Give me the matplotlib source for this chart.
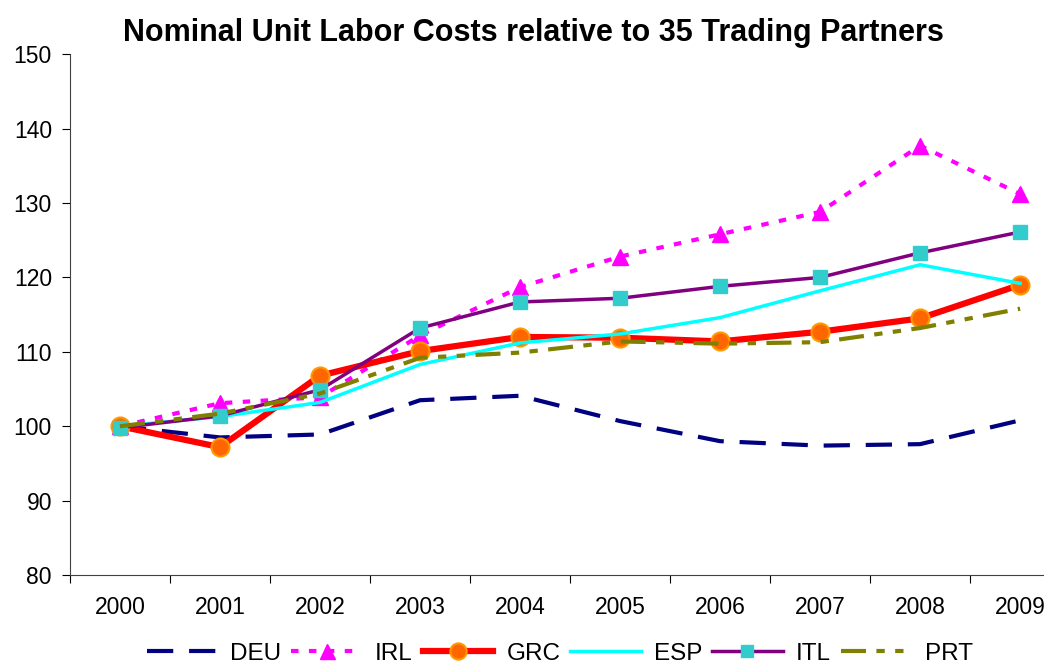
import matplotlib
matplotlib.use("Agg")
import matplotlib.pyplot as plt
from matplotlib.ticker import FixedLocator, NullFormatter

plt.rcParams['font.family'] = ['Liberation Sans', 'DejaVu Sans']

years = ['2000', '2001', '2002', '2003', '2004', '2005', '2006', '2007', '2008', '2009']
deu = [100.0, 98.5, 98.9, 103.5, 104.1, 100.7, 98.0, 97.4, 97.6, 100.8]
irl = [100.0, 103.1, 103.9, 112.2, 118.7, 122.8, 125.8, 128.8, 137.7, 131.2]
grc = [100.0, 97.2, 106.8, 110.1, 112.0, 111.9, 111.4, 112.7, 114.5, 119.0]
esp = [100.0, 101.3, 103.2, 108.3, 111.2, 112.4, 114.6, 118.2, 121.7, 119.2]
itl = [99.8, 101.4, 104.9, 113.2, 116.7, 117.2, 118.8, 120.0, 123.3, 126.1]
prt = [100.0, 101.7, 104.4, 109.2, 109.9, 111.4, 111.1, 111.3, 113.2, 115.8]

fig = plt.figure(figsize=(10.44, 6.68), dpi=100)
ax = fig.add_axes([0.067, 0.139, 0.958, 0.780])
x = list(range(len(years)))

ax.plot(x, deu, color='#000080', lw=3, dashes=(6.3, 3.8), label='DEU')
ax.plot(x, irl, color='#FF00FF', lw=3, dashes=(1.8, 2.5), marker='^', ms=12,
        mfc='#FF00FF', mec='#FF00FF', label='IRL')
ax.plot(x, grc, color='#FF0000', lw=4.5, marker='o', ms=13,
        mfc='#FF6600', mec='#FF9900', mew=1.5, label='GRC')
ax.plot(x, esp, color='#00FFFF', lw=2.5, label='ESP')
ax.plot(x, itl, color='#800080', lw=2.5, marker='s', ms=10,
        mfc='#33CCCC', mec='#33CCCC', label='ITL')
ax.plot(x, prt, color='#808000', lw=3, dashes=(6, 2.5, 2, 2.5, 2, 2.5), label='PRT')

ax.set_xlim(-0.5, len(years) - 0.5)
ax.set_ylim(80, 150)
ax.set_yticks(range(80, 151, 10))
ax.xaxis.set_major_locator(FixedLocator([i - 0.5 for i in range(len(years) + 1)]))
ax.xaxis.set_major_formatter(NullFormatter())
ax.xaxis.set_minor_locator(FixedLocator(x))
ax.set_xticklabels(years, minor=True)
ax.tick_params(axis='x', which='minor', length=0, labelsize=16.5, pad=15)
ax.tick_params(axis='x', which='major', length=6, direction='out')
ax.tick_params(axis='y', length=6, direction='out', labelsize=16.5, pad=7)
for s in ['top', 'right']:
    ax.spines[s].set_visible(False)
for s in ['left', 'bottom']:
    ax.spines[s].set_color('#404040')

fig.text(0.511, 0.951, 'Nominal Unit Labor Costs relative to 35 Trading Partners',
         ha='center', va='center', fontsize=22, fontweight='bold')

fig.legend(loc='center', bbox_to_anchor=(0.536, 0.0215), ncol=6, frameon=False,
           fontsize=17.5, handlelength=2.9, columnspacing=0.4, handletextpad=0.55,
           markerscale=0.9, borderpad=0)

fig.savefig('out.png', dpi=100)
